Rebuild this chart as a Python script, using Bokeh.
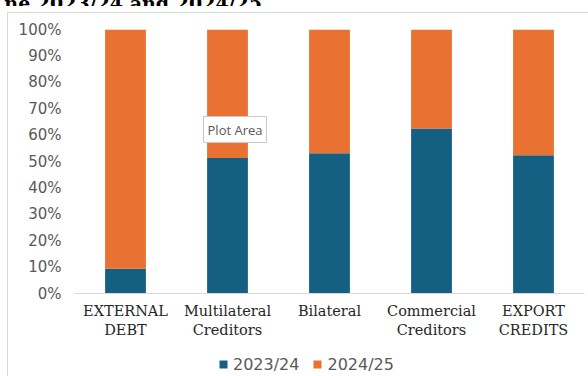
from bokeh.plotting import figure
from bokeh.layouts import column
from bokeh.models import (ColumnDataSource, Legend, LegendItem, Label, Div,
                          PrintfTickFormatter, FixedTicker, InlineStyleSheet)
from bokeh.embed import file_html
from bokeh.resources import INLINE

# Share of each debt category by fiscal year (percent of the two-year total)
categories = ["EXTERNAL DEBT", "Multilateral Creditors", "Bilateral",
              "Commercial Creditors", "EXPORT CREDITS"]
share_2023_24 = [9.4, 51.3, 53.1, 62.5, 52.4]
share_2024_25 = [90.6, 48.7, 46.9, 37.5, 47.6]
series_names = ["2023/24", "2024/25"]
y_ticks = [0, 10, 20, 30, 40, 50, 60, 70, 80, 90, 100]
heading = "ne 2023/24 and 2024/25"

BLUE = "#156082"
ORANGE = "#E97132"
LINE_GREY = "#d9d9d9"


def chart_border(height, top):
    """White background with the thin grey chart-area border (left and top)."""
    images = f"linear-gradient({LINE_GREY}, {LINE_GREY})"
    css = (":host { background-color: white;"
           f" background-image: {images}")
    if top is not None:
        css += f", {images}; background-size: 1px {height}px, 581px 1px;"
        css += f" background-position: 7px {top}px, 7px {top}px;"
    else:
        css += f"; background-size: 1px {height}px; background-position: 7px 0px;"
    css += " background-repeat: no-repeat; }"
    return [InlineStyleSheet(css=css)]


positions = list(range(len(categories)))
source = ColumnDataSource(dict(x=positions, a=share_2023_24, b=share_2024_25))

# ---- main chart -------------------------------------------------------------
p = figure(x_range=(-0.5, len(categories) - 0.5), y_range=(0, 100),
           width=588, height=334, output_backend="svg", toolbar_location=None,
           min_border_left=74, min_border_right=4, min_border_top=23,
           min_border_bottom=46)
p.outline_line_color = None
p.background_fill_color = "white"
p.border_fill_color = None
p.xgrid.grid_line_color = None
p.ygrid.grid_line_color = None
p.stylesheets = chart_border(334, 6)

p.vbar_stack(["a", "b"], x="x", width=0.4, source=source,
             color=[BLUE, ORANGE], line_color=None)

# y axis: percentages, no line or ticks
p.yaxis.ticker = FixedTicker(ticks=y_ticks)
p.yaxis.formatter = PrintfTickFormatter(format="%d%%")
p.yaxis.axis_line_color = None
p.yaxis.major_tick_line_color = None
p.yaxis.minor_tick_line_color = None
p.yaxis.major_tick_out = 0
p.yaxis.major_label_standoff = 13
p.yaxis.major_label_text_font = "DejaVu Sans"
p.yaxis.major_label_text_font_size = "15px"
p.yaxis.major_label_text_color = "#595959"

# x axis: category names, wrapped onto two lines
p.xaxis.ticker = FixedTicker(ticks=positions)
p.xaxis.major_label_overrides = {i: name.replace(" ", "\n")
                                 for i, name in zip(positions, categories)}
p.xaxis.axis_line_color = LINE_GREY
p.xaxis.major_tick_line_color = None
p.xaxis.minor_tick_line_color = None
p.xaxis.major_tick_out = 0
p.xaxis.major_label_standoff = 9
p.xaxis.major_label_text_font = "DejaVu Serif"
p.xaxis.major_label_text_font_size = "14.5px"
p.xaxis.major_label_text_color = "#262626"

# hover hint box
p.add_layout(Label(x=0.765, y=62.1, text="Plot Area",
                   text_align="left", text_baseline="middle",
                   text_font="Open Sans", text_font_size="13px",
                   text_color="#595959", background_fill_color="white",
                   border_line_color="#c8c8c8", padding=4))

# ---- legend strip (its frame lines up with the chart's frame) -----------------
leg = figure(x_range=(0, 1), y_range=(0, 1), width=588, height=36,
             output_backend="svg", toolbar_location=None, min_border=0)
leg.axis.visible = False
leg.grid.visible = False
leg.outline_line_color = None
leg.background_fill_color = None
leg.border_fill_color = None
leg.stylesheets = chart_border(36, None)

# swatch renderers: one off-range (NaN) point each, used only for the key
nan = float("nan")
swatch_a = leg.scatter(x=[nan], y=[nan], marker="square", color=BLUE,
                       line_color=None)
swatch_b = leg.scatter(x=[nan], y=[nan], marker="square", color=ORANGE,
                       line_color=None)
legend = Legend(items=[LegendItem(label=series_names[0], renderers=[swatch_a]),
                       LegendItem(label=series_names[1], renderers=[swatch_b])],
                orientation="horizontal", location=(139, 2),
                glyph_width=20, glyph_height=20, label_standoff=0, spacing=8,
                padding=0, margin=0, border_line_color=None,
                background_fill_alpha=0,
                label_text_font="DejaVu Sans", label_text_font_size="16px",
                label_text_color="#595959")
leg.add_layout(legend)

# ---- heading strip, mostly scrolled above the page -----------------------------
title_div = Div(
    text=('<div style="position:relative;width:588px;height:6px;">'
          '<span style="position:absolute;right:326px;top:-12px;'
          'white-space:nowrap;font:bold 19px \'DejaVu Serif\';'
          f'line-height:19px;color:#000;">{heading}</span></div>'),
    width=588, height=6, margin=0,
    styles={"overflow": "hidden", "background-color": "white"})

layout = column(title_div, p, leg, spacing=0)

open("out.html", "w").write(file_html(layout, INLINE))
